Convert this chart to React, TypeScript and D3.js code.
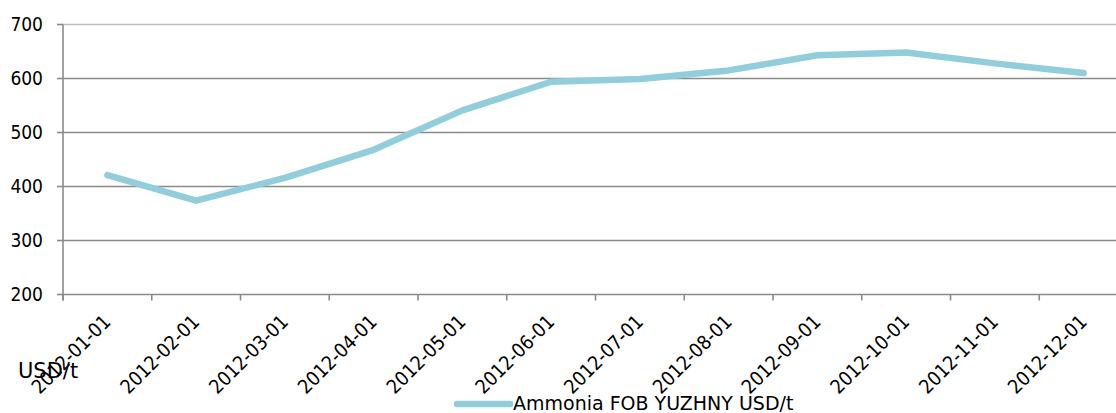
import React from "react";
import * as d3 from "d3";

const categories = [
  "2012-01-01", "2012-02-01", "2012-03-01", "2012-04-01", "2012-05-01", "2012-06-01",
  "2012-07-01", "2012-08-01", "2012-09-01", "2012-10-01", "2012-11-01", "2012-12-01",
];
const values = [421, 374, 416, 468, 541, 594, 599, 615, 643, 648, 628, 610];
const yTicks = [200, 300, 400, 500, 600, 700];
const seriesName = "Ammonia FOB YUZHNY USD/t";
const unitLabel = "USD/t";

const W = 1116;
const H = 413;
const FONT_C = "'DejaVu Sans Condensed', 'DejaVu Sans', sans-serif";
const FONT = "'DejaVu Sans', sans-serif";
const LINE_COLOR = "#92CDDC";

export default function App() {
  const left = 63;
  const band = 88.75;
  const x = d3
    .scaleBand<string>()
    .domain(categories)
    .range([left, left + band * categories.length]);
  const y = d3.scaleLinear().domain([200, 700]).range([294.5, 24.5]);

  const line = d3
    .line<number>()
    .x((_, i) => (x(categories[i]) as number) + x.bandwidth() / 2)
    .y((d) => y(d));

  const boundaries = d3.range(categories.length + 1).map((k) => left + k * x.bandwidth());

  return (
    <svg
      width={W}
      height={H}
      style={{ position: "absolute", left: 0, top: 0, display: "block" }}
      fontFamily={FONT_C}
    >
      <rect width={W} height={H} fill="#fff" />
      {yTicks.map((t) => (
        <g key={t}>
          <line
            x1={left}
            x2={W}
            y1={y(t)}
            y2={y(t)}
            stroke={t === 700 ? "#bdbdbd" : "#8a8a8a"}
            strokeWidth={1.6}
          />
          <line x1={left - 6} x2={left} y1={y(t)} y2={y(t)} stroke="#8a8a8a" strokeWidth={1.6} />
          <text
            x={43}
            y={y(t)}
            dy="0.36em"
            textAnchor="end"
            fontSize={19}
            fill="#000"
            style={{ fontStretch: "condensed" }}
          >
            {t}
          </text>
        </g>
      ))}
      <line x1={left} x2={left} y1={y(700)} y2={y(200) + 6} stroke="#8a8a8a" strokeWidth={1.6} />
      {boundaries.map((bx, i) => (
        <line key={i} x1={bx} x2={bx} y1={y(200)} y2={y(200) + 6} stroke="#8a8a8a" strokeWidth={1.6} />
      ))}
      {categories.map((c) => {
        const cx = (x(c) as number) + x.bandwidth() / 2;
        return (
          <text
            key={c}
            transform={`translate(${cx + 4.5},${323}) rotate(-45)`}
            textAnchor="end"
            fontSize={19.5}
            fill="#000"
            style={{ fontStretch: "condensed" }}
          >
            {c}
          </text>
        );
      })}
      <path
        d={line(values) ?? ""}
        fill="none"
        stroke={LINE_COLOR}
        strokeWidth={6.5}
        strokeLinecap="round"
        strokeLinejoin="round"
      />
      <text x={18} y={378} fontSize={21} fill="#000" fontFamily={FONT}>
        {unitLabel}
      </text>
      <line x1={457} x2={510} y1={404} y2={404} stroke={LINE_COLOR} strokeWidth={6.5} strokeLinecap="round" />
      <text x={513} y={410} fontSize={19} fill="#000" fontFamily={FONT}>
        {seriesName}
      </text>
    </svg>
  );
}
